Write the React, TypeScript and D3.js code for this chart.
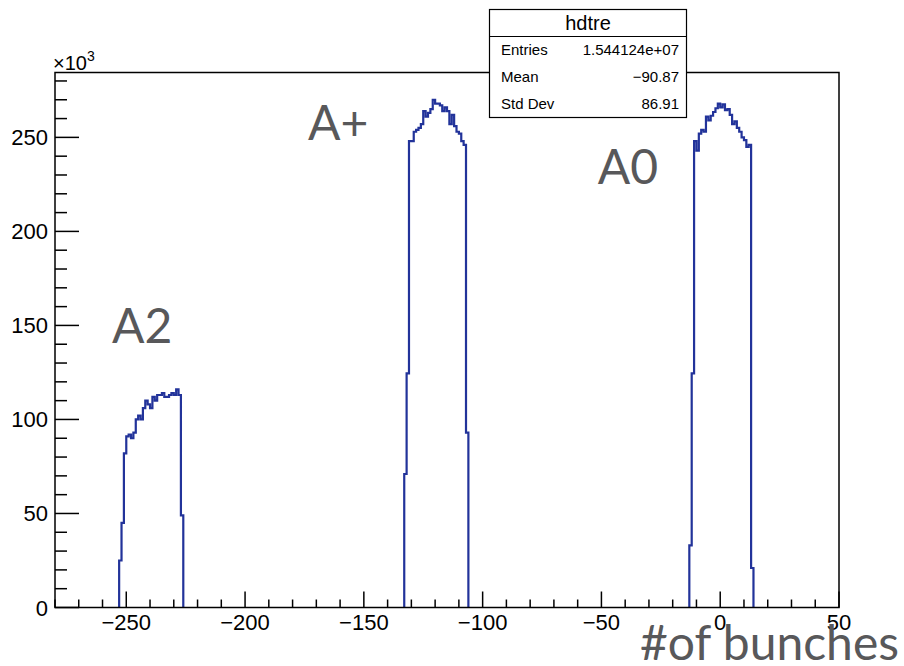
import React from "react";
import * as d3 from "d3";

// ---- data (counts in thousands, bin width = 1 bunch) ----
const peakLabels = ["A2", "A+", "A0"];
const peakStarts = [-253, -133, -13];
const a2Counts = [25, 45, 82, 91, 92, 90, 93, 100, 102, 100, 106, 110, 108, 106, 112, 110, 113, 113, 114, 112, 112, 113, 114, 113, 116, 113, 49];
const aPlusCounts = [71, 124.5, 248, 248, 253, 254, 255, 257, 264, 261, 263, 265, 270, 268, 268, 267, 264, 266, 264, 257, 262, 256, 253, 252, 248, 246, 93];
const a0Counts = [33, 124.5, 248, 243, 252, 254, 253, 261, 259, 261.5, 263.5, 265.5, 268, 266, 267.5, 264.5, 265, 262, 257, 258.5, 255, 253, 250, 248.5, 245, 246, 21];
const xTicks = [-250, -200, -150, -100, -50, 0, 50];
const yTicks = [0, 50, 100, 150, 200, 250];
const xDomain = [-280, 50];
const yDomain = [0, 284.5];
const statsTitle = "hdtre";
const statsRows = [
  ["Entries", "1.544124e+07"],
  ["Mean", "\u221290.87"],
  ["Std Dev", "86.91"],
];

const W = 904;
const H = 666;
const L = 55, R = 839, T = 72.5, B = 607.5;

export default function App() {
  const x = d3.scaleLinear().domain(xDomain).range([L, R]);
  const y = d3.scaleLinear().domain(yDomain).range([B, T]);
  const peaks = [a2Counts, aPlusCounts, a0Counts];

  const stepPath = (start: number, counts: number[]) => {
    let p = `M${x(start)},${y(0)}`;
    counts.forEach((c, i) => {
      p += `V${y(c)}H${x(start + i + 1)}`;
    });
    p += `V${y(0)}`;
    return p;
  };

  const xMinor = d3.range(xDomain[0], xDomain[1] + 0.001, 10);
  const yMinor = d3.range(0, yDomain[1], 10);
  const font = "'Liberation Sans', Arial, Helvetica, sans-serif";
  const annoFont = "Lato, 'Open Sans', sans-serif";
  const annoColor = "#58585a";
  const labelPos: [number, number][] = [[-256, 140.5], [-173.5, 248.5], [-51.5, 225]];

  const bx0 = 489.5, bx1 = 686.5, by0 = 9.5, by1 = 117.5, titleH = 27;
  const rowH = (by1 - by0 - titleH) / 3;

  return (
    <svg width={W} height={H} style={{ position: "absolute", left: 0, top: 0, background: "#fff" }}>
      <rect x={0} y={0} width={W} height={H} fill="#fff" />
      {peaks.map((c, i) => (
        <path key={i} d={stepPath(peakStarts[i], c)} fill="none" stroke="#22339a" strokeWidth={2.2} />
      ))}
      {/* frame */}
      <rect x={L} y={T} width={R - L} height={B - T} fill="none" stroke="#000" strokeWidth={1.5} />
      {/* x ticks */}
      {xMinor.map((v) => {
        const major = xTicks.includes(v);
        return <line key={"xm" + v} x1={x(v)} x2={x(v)} y1={B} y2={B - (major ? 16 : 8)} stroke="#000" strokeWidth={1.5} />;
      })}
      {xTicks.map((v) => (
        <text key={"xl" + v} x={x(v)} y={630} textAnchor="middle" fontFamily={font} fontSize={22}>
          {v < 0 ? "\u2212" + Math.abs(v) : String(v)}
        </text>
      ))}
      {/* y ticks */}
      {yMinor.map((v) => {
        const major = yTicks.includes(v);
        return <line key={"ym" + v} x1={L} x2={L + (major ? 24 : 12)} y1={y(v)} y2={y(v)} stroke="#000" strokeWidth={1.5} />;
      })}
      {yTicks.map((v) => (
        <text key={"yl" + v} x={48} y={y(v) + 8} textAnchor="end" fontFamily={font} fontSize={22}>
          {v}
        </text>
      ))}
      <text x={53} y={70} fontFamily={font} fontSize={20}>
        ×10<tspan dy={-9} fontSize={14}>3</tspan>
      </text>
      {/* annotations */}
      {peakLabels.map((t, i) => (
        <text key={t} x={x(labelPos[i][0])} y={y(labelPos[i][1])} fontFamily={annoFont} fontSize={48} fill={annoColor}>
          {t}
        </text>
      ))}
      <text x={640} y={660} fontFamily={annoFont} fontSize={48} fill={annoColor}>#of bunches</text>
      {/* stats box */}
      <rect x={bx0} y={by0} width={bx1 - bx0} height={by1 - by0} fill="#fff" stroke="#000" strokeWidth={1.2} />
      <line x1={bx0} x2={bx1} y1={by0 + titleH} y2={by0 + titleH} stroke="#000" strokeWidth={1.2} />
      <text x={(bx0 + bx1) / 2} y={by0 + 20} textAnchor="middle" fontFamily={font} fontSize={20}>{statsTitle}</text>
      {statsRows.map((r, i) => (
        <g key={r[0]}>
          <text x={501} y={by0 + titleH + rowH * i + rowH / 2 + 5} fontFamily={font} fontSize={15}>{r[0]}</text>
          <text x={679} y={by0 + titleH + rowH * i + rowH / 2 + 5} textAnchor="end" fontFamily={font} fontSize={15}>{r[1]}</text>
        </g>
      ))}
    </svg>
  );
}
